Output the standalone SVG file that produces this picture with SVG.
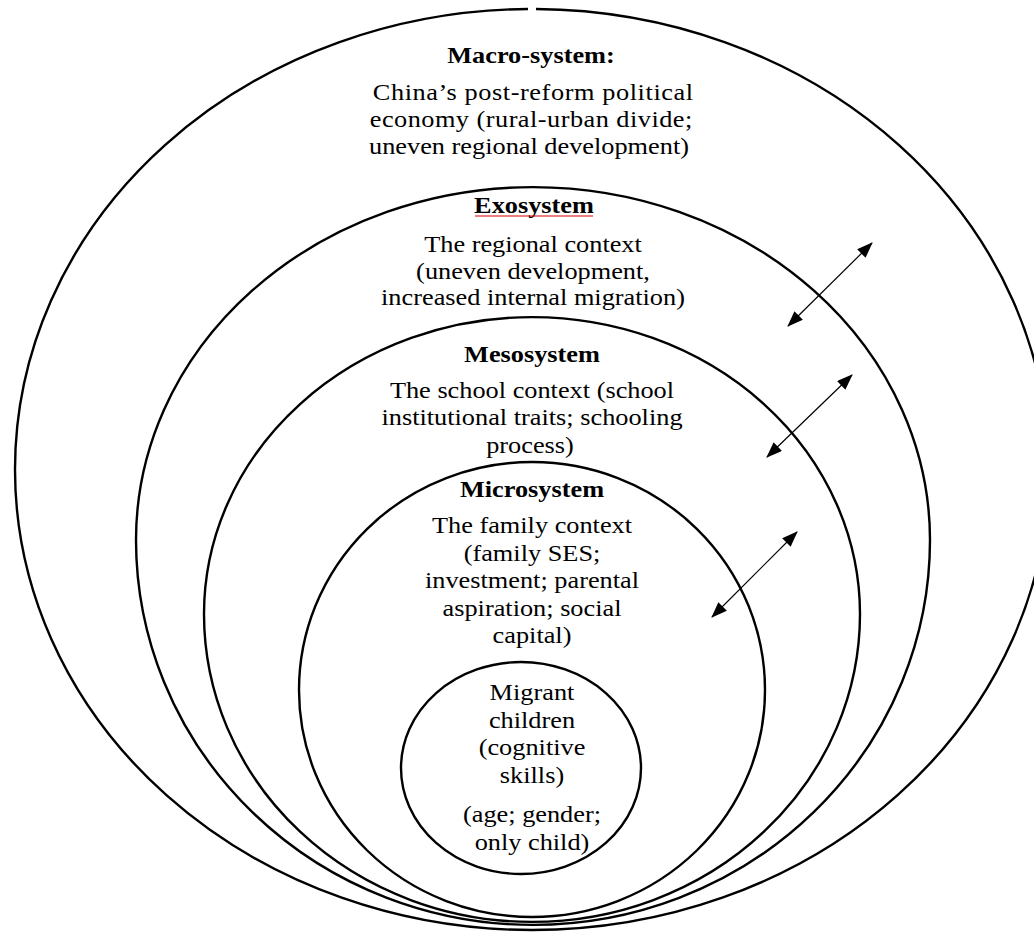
<svg xmlns="http://www.w3.org/2000/svg" width="1034" height="934" viewBox="0 0 1034 934">
<style>
  .ring { fill: none; stroke: #000; stroke-width: 2.4; }
  .t { font-family: "Liberation Serif", "Times New Roman", serif; font-size: 23.5px; fill: #000; text-anchor: middle; }
  .b { font-weight: bold; }
  .conn { stroke: #000; stroke-width: 1.2; fill: none; marker-start: url(#ah); marker-end: url(#ah); }
</style>
<defs>
  <marker id="ah" markerUnits="userSpaceOnUse" viewBox="0 0 16 12" markerWidth="16" markerHeight="12" refX="15" refY="6" orient="auto-start-reverse">
    <path d="M0,0 L16,6 L0,12 z" fill="#000"/>
  </marker>
</defs>
<rect width="1034" height="934" fill="#fff"/>

<g id="macro">
  <path class="ring" d="M536,9 A517,460.5 0 0 1 1049,469.5 A517,460.5 0 0 1 532,930 A517,460.5 0 0 1 15,469.5 A517,460.5 0 0 1 528,9"/>
  <text class="t b" transform="translate(531,63) scale(1.12,1)">Macro-system:</text>
  <text class="t" transform="translate(533,100) scale(1.12,1)" textLength="286" lengthAdjust="spacing">China’s post-reform political</text>
  <text class="t" transform="translate(531,127) scale(1.12,1)" textLength="288" lengthAdjust="spacing">economy (rural-urban divide;</text>
  <text class="t" transform="translate(529,154) scale(1.12,1)">uneven regional development)</text>
</g>

<g id="exo">
  <path class="ring" d="M136,540 A397,353 0 0 1 930,540 A397,385 0 0 1 136,540 Z"/>
  <text class="t b" transform="translate(534,213) scale(1.12,1)">Exosystem</text>
  <line x1="475" y1="216" x2="593" y2="216" stroke="#d40000" stroke-width="1.2"/>
  <text class="t" transform="translate(533,252) scale(1.12,1)">The regional context</text>
  <text class="t" transform="translate(533,278.5) scale(1.12,1)">(uneven development,</text>
  <text class="t" transform="translate(533,305) scale(1.12,1)">increased internal migration)</text>
</g>

<g id="meso">
  <path class="ring" d="M204,614 A328,297 0 0 1 860,614 A328,308 0 0 1 204,614 Z"/>
  <text class="t b" transform="translate(532,362) scale(1.12,1)">Mesosystem</text>
  <text class="t" transform="translate(532,398) scale(1.12,1)">The school context (school</text>
  <text class="t" transform="translate(532,425) scale(1.12,1)">institutional traits; schooling</text>
  <text class="t" transform="translate(530,453) scale(1.12,1)">process)</text>
</g>

<g id="micro">
  <path class="ring" d="M299,690 A233,228 0 0 1 765,690 A233,227 0 0 1 299,690 Z"/>
  <text class="t b" transform="translate(532,497) scale(1.12,1)">Microsystem</text>
  <text class="t" transform="translate(532,533) scale(1.12,1)">The family context</text>
  <text class="t" transform="translate(532,560.5) scale(1.12,1)">(family SES;</text>
  <text class="t" transform="translate(532,588) scale(1.12,1)">investment; parental</text>
  <text class="t" transform="translate(532,615.5) scale(1.12,1)">aspiration; social</text>
  <text class="t" transform="translate(532,643) scale(1.12,1)">capital)</text>
</g>

<g id="child">
  <ellipse class="ring" cx="521" cy="768" rx="120" ry="106"/>
  <text class="t" transform="translate(532,700) scale(1.12,1)">Migrant</text>
  <text class="t" transform="translate(532,728) scale(1.12,1)">children</text>
  <text class="t" transform="translate(532,755) scale(1.12,1)">(cognitive</text>
  <text class="t" transform="translate(532,783) scale(1.12,1)">skills)</text>
  <text class="t" transform="translate(532,822) scale(1.12,1)">(age; gender;</text>
  <text class="t" transform="translate(532,850) scale(1.12,1)">only child)</text>
</g>

<g id="connectors">
  <line class="conn" x1="788" y1="326" x2="872" y2="243"/>
  <line class="conn" x1="767" y1="457" x2="852" y2="375"/>
  <line class="conn" x1="712" y1="617" x2="797" y2="532"/>
</g>
</svg>
